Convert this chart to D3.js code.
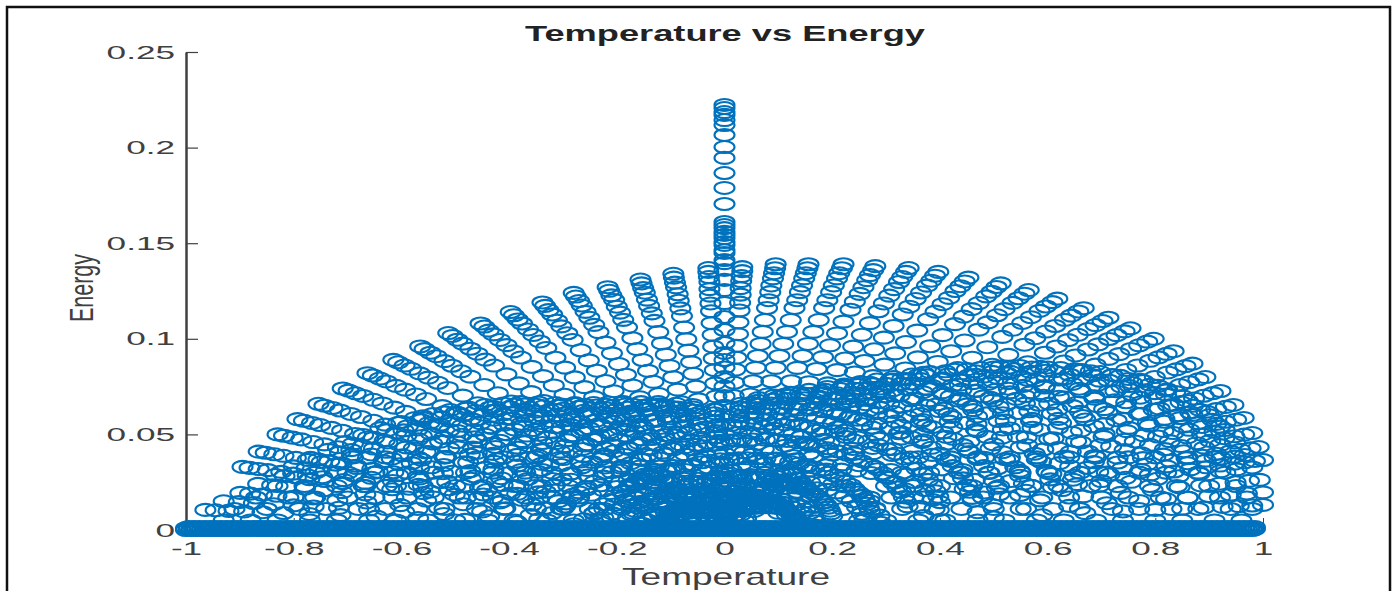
<!DOCTYPE html>
<html>
<head>
<meta charset="utf-8">
<script src="https://cdn.jsdelivr.net/npm/d3@7"></script>
<style>
  html, body { margin: 0; background: #fff; overflow: hidden; }
  text { font-family: "Liberation Sans", Arial, sans-serif; }
</style>
</head>
<body>
<div id="visualization"></div>
<script>
const c1 = '#0072BD'
const c2 = '#404040'

const titleText = 'Temperature vs Energy'
const xLabel = 'Temperature'
const yLabel = 'Energy'

const xTicks = [-1, -0.8, -0.6, -0.4, -0.2, 0, 0.2, 0.4, 0.6, 0.8, 1]
const yTicks = [0, 0.05, 0.1, 0.15, 0.2, 0.25]
const xTickLabels = ['-1', '-0.8', '-0.6', '-0.4', '-0.2', '0', '0.2', '0.4', '0.6', '0.8', '1']
const yTickLabels = ['0', '0.05', '0.1', '0.15', '0.2', '0.25']

// centre spike, all at temperature 0
const spikeY = [.2223, .2207, .2186, .2171, .2144, .2118, .2066, .2003, .1946, .1867, .1789, .1705, .1611, .1595, .1579, .1559, .1543, .1527, .1506, .1491, .1464, .1449, .1412, .1396, .136, .1308, .1255, .1187, .1114, .1046, .0978, .0926, .0889]

// outer fan, read ray by ray from tip to the inner hump
const outerX = [
  [-.895, -.882, -.865, -.848, -.823, -.801, -.774, -.747, -.707, -.667, -.627, -.586, -.546, -.501],
  [-.865, -.852, -.836, -.819, -.796, -.774, -.748, -.722, -.683, -.644, -.606, -.567, -.528, -.484],
  [-.83, -.818, -.802, -.786, -.764, -.743, -.718, -.693, -.656, -.618, -.581, -.544, -.506, -.465],
  [-.793, -.781, -.766, -.751, -.73, -.71, -.686, -.662, -.626, -.591, -.555, -.519, -.484, -.444],
  [-.754, -.743, -.728, -.714, -.694, -.675, -.652, -.63, -.596, -.562, -.528, -.494, -.46, -.422],
  [-.709, -.698, -.685, -.671, -.652, -.635, -.613, -.592, -.56, -.528, -.496, -.464, -.432, -.397],
  [-.663, -.653, -.64, -.628, -.61, -.593, -.573, -.554, -.524, -.494, -.464, -.434, -.404, -.371],
  [-.615, -.606, -.594, -.582, -.566, -.55, -.532, -.514, -.486, -.458, -.431, -.403, -.375, -.344],
  [-.565, -.557, -.546, -.535, -.52, -.506, -.489, -.472, -.446, -.421, -.396, -.37, -.345, -.316],
  [-.513, -.505, -.496, -.486, -.472, -.459, -.444, -.428, -.405, -.382, -.359, -.336, -.313, -.287],
  [-.453, -.446, -.438, -.429, -.417, -.405, -.392, -.378, -.358, -.337, -.317, -.297, -.276, -.254],
  [-.397, -.391, -.384, -.376, -.365, -.355, -.343, -.331, -.314, -.296, -.278, -.26, -.242, -.222],
  [-.338, -.333, -.327, -.32, -.311, -.303, -.292, -.282, -.267, -.252, -.237, -.221, -.206, -.189],
  [-.28, -.276, -.27, -.265, -.258, -.251, -.242, -.234, -.221, -.209, -.196, -.183, -.171, -.157],
  [-.217, -.214, -.21, -.205, -.2, -.194, -.188, -.181, -.171, -.162, -.152, -.142, -.132, -.122],
  [-.156, -.154, -.151, -.148, -.144, -.14, -.135, -.13, -.123, -.116, -.109, -.102, -.095, -.087],
  [-.095, -.094, -.092, -.09, -.087, -.085, -.082, -.079, -.075, -.071, -.067, -.062, -.058, -.053],
  [-.03, -.03, -.029, -.028, -.028, -.027, -.026, -.025, -.024, -.022, -.021, -.02, -.018, -.017],
  [.033, .033, .032, .031, .03, .03, .029, .028, .026, .025, .023, .022, .02, .018],
  [.095, .094, .092, .09, .087, .085, .082, .079, .075, .071, .067, .062, .058, .053],
  [.156, .154, .151, .148, .144, .14, .135, .13, .123, .116, .109, .102, .095, .087],
  [.221, .218, .213, .209, .203, .198, .191, .185, .175, .165, .155, .145, .135, .124],
  [.28, .276, .27, .265, .258, .251, .242, .234, .221, .209, .196, .183, .171, .157],
  [.342, .337, .33, .324, .315, .306, .296, .286, .27, .255, .239, .224, .209, .192],
  [.397, .391, .384, .376, .365, .355, .343, .331, .314, .296, .278, .26, .242, .222],
  [.453, .446, .438, .429, .417, .405, .392, .378, .358, .337, .317, .297, .276, .254],
  [.513, .505, .496, .486, .472, .459, .444, .428, .405, .382, .359, .336, .313, .287],
  [.565, .557, .546, .535, .52, .506, .489, .472, .446, .421, .396, .37, .345, .316],
  [.618, .609, .597, .585, .569, .553, .535, .516, .488, .46, .433, .405, .377, .346],
  [.667, .657, .644, .632, .614, .597, .577, .557, .527, .497, .467, .437, .407, .374],
  [.713, .702, .689, .675, .656, .638, .617, .595, .563, .531, .499, .467, .435, .399],
  [.754, .743, .728, .714, .694, .675, .652, .63, .596, .562, .528, .494, .46, .422],
  [.797, .785, .77, .755, .733, .713, .689, .665, .63, .594, .558, .522, .486, .446],
  [.834, .821, .806, .79, .767, .746, .721, .696, .659, .621, .584, .546, .509, .467],
  [.869, .856, .839, .823, .799, .778, .752, .726, .687, .647, .608, .569, .53, .487],
  [.893, .88, .863, .846, .822, .799, .772, .746, .705, .665, .625, .585, .545, .5],
  [.921, .907, .89, .872, .847, .824, .797, .769, .728, .686, .645, .603, .562, .516],
  [.945, .931, .913, .895, .869, .846, .817, .789, .747, .704, .662, .619, .576, .529],
  [.964, .95, .931, .913, .887, .863, .834, .805, .762, .718, .675, .631, .588, .54],
  [.98, .965, .947, .928, .902, .877, .848, .818, .774, .73, .686, .642, .598, .549],
  [.992, .977, .958, .939, .913, .888, .858, .828, .784, .739, .694, .65, .605, .556],
  [1, .985, .966, .947, .92, .895, .865, .835, .79, .745, .7, .655, .61, .56]
]
const outerY = [
  [.033, .0325, .0319, .0313, .0304, .0295, .0285, .0276, .0261, .0246, .0231, .0216, .0201, .0185],
  [.041, .0404, .0396, .0388, .0377, .0367, .0355, .0342, .0324, .0305, .0287, .0269, .025, .023],
  [.05, .0493, .0483, .0474, .046, .0448, .0433, .0418, .0395, .0373, .035, .0328, .0305, .028],
  [.058, .0571, .056, .0549, .0534, .0519, .0502, .0484, .0458, .0432, .0406, .038, .0354, .0325],
  [.066, .065, .0638, .0625, .0607, .0591, .0571, .0551, .0521, .0492, .0462, .0432, .0403, .037],
  [.074, .0729, .0715, .0701, .0681, .0662, .064, .0618, .0585, .0551, .0518, .0485, .0451, .0414],
  [.082, .0808, .0792, .0777, .0754, .0734, .0709, .0685, .0648, .0611, .0574, .0537, .05, .0459],
  [.089, .0877, .086, .0843, .0819, .0797, .077, .0743, .0703, .0663, .0623, .0583, .0543, .0498],
  [.096, .0946, .0927, .0909, .0883, .0859, .083, .0802, .0758, .0715, .0672, .0629, .0586, .0538],
  [.103, .1015, .0995, .0975, .0948, .0922, .0891, .086, .0814, .0767, .0721, .0675, .0628, .0577],
  [.108, .1064, .1043, .1023, .0994, .0967, .0934, .0902, .0853, .0805, .0756, .0707, .0659, .0605],
  [.114, .1123, .1101, .108, .1049, .102, .0986, .0952, .0901, .0849, .0798, .0747, .0695, .0638],
  [.119, .1172, .115, .1127, .1095, .1065, .1029, .0994, .094, .0887, .0833, .0779, .0726, .0666],
  [.124, .1221, .1198, .1174, .1141, .111, .1073, .1035, .098, .0924, .0868, .0812, .0756, .0694],
  [.127, .1251, .1227, .1203, .1168, .1137, .1099, .106, .1003, .0946, .0889, .0832, .0775, .0711],
  [.131, .129, .1265, .1241, .1205, .1172, .1133, .1094, .1035, .0976, .0917, .0858, .0799, .0734],
  [.134, .132, .1294, .1269, .1233, .1199, .1159, .1119, .1059, .0998, .0938, .0878, .0817, .075],
  [.137, .135, .1323, .1297, .126, .1226, .1185, .1144, .1082, .1021, .0959, .0897, .0836, .0767],
  [.1375, .1354, .1328, .1302, .1265, .1231, .1189, .1148, .1086, .1024, .0963, .0901, .0839, .077],
  [.139, .1369, .1343, .1316, .1279, .1244, .1202, .1161, .1098, .1036, .0973, .091, .0848, .0778],
  [.139, .1369, .1343, .1316, .1279, .1244, .1202, .1161, .1098, .1036, .0973, .091, .0848, .0778],
  [.139, .1369, .1343, .1316, .1279, .1244, .1202, .1161, .1098, .1036, .0973, .091, .0848, .0778],
  [.138, .1359, .1333, .1307, .127, .1235, .1194, .1152, .109, .1028, .0966, .0904, .0842, .0773],
  [.137, .135, .1323, .1297, .126, .1226, .1185, .1144, .1082, .1021, .0959, .0897, .0836, .0767],
  [.135, .133, .1304, .1278, .1242, .1208, .1168, .1127, .1067, .1006, .0945, .0884, .0824, .0756],
  [.132, .13, .1275, .125, .1214, .1181, .1142, .1102, .1043, .0983, .0924, .0865, .0805, .0739],
  [.129, .1271, .1246, .1222, .1187, .1155, .1116, .1077, .1019, .0961, .0903, .0845, .0787, .0722],
  [.1255, .1236, .1212, .1188, .1155, .1123, .1086, .1048, .0991, .0935, .0879, .0822, .0766, .0703],
  [.121, .1192, .1169, .1146, .1113, .1083, .1047, .101, .0956, .0901, .0847, .0793, .0738, .0678],
  [.116, .1143, .1121, .1099, .1067, .1038, .1003, .0969, .0916, .0864, .0812, .076, .0708, .065],
  [.111, .1093, .1072, .1051, .1021, .0993, .096, .0927, .0877, .0827, .0777, .0727, .0677, .0622],
  [.1055, .1039, .1019, .0999, .0971, .0944, .0913, .0881, .0833, .0786, .0739, .0691, .0644, .0591],
  [.1, .0985, .0966, .0947, .092, .0895, .0865, .0835, .079, .0745, .07, .0655, .061, .056],
  [.0935, .0921, .0903, .0885, .086, .0837, .0809, .0781, .0739, .0697, .0655, .0612, .057, .0524],
  [.087, .0857, .084, .0824, .08, .0779, .0753, .0726, .0687, .0648, .0609, .057, .0531, .0487],
  [.08, .0788, .0773, .0758, .0736, .0716, .0692, .0668, .0632, .0596, .056, .0524, .0488, .0448],
  [.0727, .0716, .0702, .0688, .0669, .0651, .0629, .0607, .0574, .0542, .0509, .0476, .0443, .0407],
  [.0654, .0644, .0632, .0619, .0602, .0585, .0566, .0546, .0517, .0487, .0458, .0428, .0399, .0366],
  [.0586, .0577, .0566, .0555, .0539, .0524, .0507, .0489, .0463, .0437, .041, .0384, .0357, .0328],
  [.0507, .0499, .049, .048, .0466, .0454, .0439, .0423, .0401, .0378, .0355, .0332, .0309, .0284],
  [.0434, .0427, .0419, .0411, .0399, .0388, .0375, .0362, .0343, .0323, .0304, .0284, .0265, .0243],
  [.0366, .0361, .0354, .0347, .0337, .0328, .0317, .0306, .0289, .0273, .0256, .024, .0223, .0205]
]

// same fan rays where they run on inside the humps
const lowerX = [
  [-.456, -.412, -.358, -.304, -.242, -.179, -.116], [-.441, -.398, -.346, -.294, -.234, -.173, -.112],
  [-.423, -.382, -.332, -.282, -.224, -.166, -.108], [-.404, -.365, -.317, -.27, -.214, -.159, -.103],
  [-.385, -.347, -.302, -.256, -.204, -.151, -.098], [-.362, -.326, -.284, -.241, -.191, -.142, -.092],
  [-.338, -.305, -.265, -.225, -.179, -.133, -.086], [-.314, -.283, -.246, -.209, -.166, -.123, -.08],
  [-.288, -.26, -.226, -.192, -.153, -.113, -.073], [-.262, -.236, -.205, -.174, -.139, -.103, -.067],
  [-.231, -.208, -.181, -.154, -.122, -.091, -.059], [-.202, -.183, -.159, -.135, -.107, -.079, -.052],
  [-.172, -.155, -.135, -.115, -.091, -.068, -.044], [-.143, -.129, -.112, -.095, -.076, -.056, -.036],
  [-.111, -.1, -.087, -.074, -.059, -.043, -.028], [-.08, -.072, -.062, -.053, -.042, -.031, -.02],
  [-.048, -.044, -.038, -.032, -.026, -.019, -.012], [-.015, -.014, -.012, -.01, -.008, -.006, -.004],
  [.017, .015, .013, .011, .009, .007, .004], [.048, .044, .038, .032, .026, .019, .012],
  [.08, .072, .062, .053, .042, .031, .02], [.113, .102, .088, .075, .06, .044, .029],
  [.143, .129, .112, .095, .076, .056, .036], [.174, .157, .137, .116, .092, .068, .044],
  [.202, .183, .159, .135, .107, .079, .052], [.231, .208, .181, .154, .122, .091, .059],
  [.262, .236, .205, .174, .139, .103, .067], [.288, .26, .226, .192, .153, .113, .073],
  [.315, .284, .247, .21, .167, .124, .08], [.34, .307, .267, .227, .18, .133, .087],
  [.364, .328, .285, .242, .193, .143, .093], [.385, .347, .302, .256, .204, .151, .098],
  [.406, .367, .319, .271, .215, .159, .104], [.425, .384, .334, .284, .225, .167, .108],
  [.443, .4, .348, .295, .235, .174, .113], [.455, .411, .357, .304, .241, .179, .116],
  [.47, .424, .368, .313, .249, .184, .12], [.482, .435, .378, .321, .255, .189, .123],
  [.492, .443, .386, .328, .26, .193, .125], [.5, .451, .392, .333, .265, .196, .127],
  [.506, .456, .397, .337, .268, .198, .129], [.51, .46, .4, .34, .27, .2, .13]
]
const lowerY = [
  [.0168, .0152, .0132, .0112, .0089, .0066, .0043], [.0209, .0189, .0164, .0139, .0111, .0082, .0053],
  [.0255, .023, .02, .017, .0135, .01, .0065], [.0296, .0267, .0232, .0197, .0157, .0116, .0075],
  [.0337, .0304, .0264, .0224, .0178, .0132, .0086], [.0377, .034, .0296, .0252, .02, .0148, .0096],
  [.0418, .0377, .0328, .0279, .0221, .0164, .0107], [.0454, .0409, .0356, .0303, .024, .0178, .0116],
  [.049, .0442, .0384, .0326, .0259, .0192, .0125], [.0525, .0474, .0412, .035, .0278, .0206, .0134],
  [.0551, .0497, .0432, .0367, .0292, .0216, .014], [.0581, .0524, .0456, .0388, .0308, .0228, .0148],
  [.0607, .0547, .0476, .0405, .0321, .0238, .0155], [.0632, .057, .0496, .0422, .0335, .0248, .0161],
  [.0648, .0584, .0508, .0432, .0343, .0254, .0165], [.0668, .0603, .0524, .0445, .0354, .0262, .017],
  [.0683, .0616, .0536, .0456, .0362, .0268, .0174], [.0699, .063, .0548, .0466, .037, .0274, .0178],
  [.0701, .0633, .055, .0468, .0371, .0275, .0179], [.0709, .0639, .0556, .0473, .0375, .0278, .0181],
  [.0709, .0639, .0556, .0473, .0375, .0278, .0181], [.0709, .0639, .0556, .0473, .0375, .0278, .0181],
  [.0704, .0635, .0552, .0469, .0373, .0276, .0179], [.0699, .063, .0548, .0466, .037, .0274, .0178],
  [.0689, .0621, .054, .0459, .0365, .027, .0176], [.0673, .0607, .0528, .0449, .0356, .0264, .0172],
  [.0658, .0593, .0516, .0439, .0348, .0258, .0168], [.064, .0577, .0502, .0427, .0339, .0251, .0163],
  [.0617, .0557, .0484, .0411, .0327, .0242, .0157], [.0592, .0534, .0464, .0394, .0313, .0232, .0151],
  [.0566, .0511, .0444, .0377, .03, .0222, .0144], [.0538, .0485, .0422, .0359, .0285, .0211, .0137],
  [.051, .046, .04, .034, .027, .02, .013], [.0477, .043, .0374, .0318, .0252, .0187, .0122],
  [.0444, .04, .0348, .0296, .0235, .0174, .0113], [.0408, .0368, .032, .0272, .0216, .016, .0104],
  [.0371, .0334, .0291, .0247, .0196, .0145, .0095], [.0334, .0301, .0262, .0222, .0177, .0131, .0085],
  [.0299, .027, .0234, .0199, .0158, .0117, .0076], [.0259, .0233, .0203, .0172, .0137, .0101, .0066],
  [.0221, .02, .0174, .0148, .0117, .0087, .0056], [.0187, .0168, .0146, .0124, .0099, .0073, .0048]
]

// inner humps, nested down towards the origin
const innerX = [
  [-.964, -.945, -.921, -.892, -.858, -.819, -.771, -.713, -.646, -.569, -.482, -.386, -.28, -.164],
  [-.899, -.881, -.859, -.832, -.8, -.764, -.719, -.665, -.602, -.53, -.45, -.36, -.261, -.153],
  [-.834, -.817, -.796, -.771, -.742, -.709, -.667, -.617, -.559, -.492, -.417, -.334, -.242, -.142],
  [-.769, -.754, -.734, -.711, -.684, -.654, -.615, -.569, -.515, -.454, -.385, -.308, -.223, -.131],
  [-.704, -.69, -.672, -.651, -.627, -.598, -.563, -.521, -.472, -.415, -.352, -.282, -.204, -.12],
  [-.639, -.626, -.61, -.591, -.569, -.543, -.511, -.473, -.428, -.377, -.32, -.256, -.185, -.109],
  [-.574, -.563, -.548, -.531, -.511, -.488, -.459, -.425, -.385, -.339, -.287, -.23, -.166, -.098],
  [-.509, -.499, -.486, -.471, -.453, -.433, -.407, -.377, -.341, -.3, -.255, -.204, -.148, -.087],
  [-.444, -.435, -.424, -.411, -.395, -.377, -.355, -.329, -.297, -.262, -.222, -.178, -.129, -.075],
  [-.379, -.371, -.362, -.351, -.337, -.322, -.303, -.28, -.254, -.224, -.19, -.152, -.11, -.064],
  [-.314, -.308, -.3, -.29, -.279, -.267, -.251, -.232, -.21, -.185, -.157, -.126, -.091, -.053],
  [-.243, -.238, -.232, -.225, -.216, -.207, -.194, -.18, -.163, -.143, -.122, -.097, -.07, -.041],
  [-.188, -.184, -.18, -.174, -.167, -.16, -.15, -.139, -.126, -.111, -.094, -.075, -.055, -.032],
  [-.123, -.121, -.117, -.114, -.109, -.105, -.098, -.091, -.082, -.073, -.062, -.049, -.036, -.021],
  [-.059, -.058, -.056, -.055, -.053, -.05, -.047, -.044, -.04, -.035, -.03, -.024, -.017, -.01],
  [.063, .062, .06, .058, .056, .054, .05, .047, .042, .037, .032, .025, .018, .011],
  [.123, .121, .117, .114, .109, .105, .098, .091, .082, .073, .062, .049, .036, .021],
  [.191, .187, .182, .177, .17, .162, .153, .141, .128, .113, .096, .076, .055, .032],
  [.253, .248, .242, .234, .225, .215, .202, .187, .17, .149, .127, .101, .073, .043],
  [.314, .308, .3, .29, .279, .267, .251, .232, .21, .185, .157, .126, .091, .053],
  [.382, .374, .365, .353, .34, .325, .306, .283, .256, .225, .191, .153, .111, .065],
  [.475, .466, .454, .439, .423, .404, .38, .352, .318, .28, .238, .19, .138, .081],
  [.549, .538, .524, .508, .489, .467, .439, .406, .368, .324, .275, .22, .159, .093],
  [.624, .612, .596, .577, .555, .53, .499, .462, .418, .368, .312, .25, .181, .106],
  [.698, .684, .667, .646, .621, .593, .558, .517, .468, .412, .349, .279, .202, .119],
  [.772, .757, .737, .714, .687, .656, .618, .571, .517, .455, .386, .309, .224, .131],
  [.837, .82, .799, .774, .745, .711, .67, .619, .561, .494, .419, .335, .243, .142],
  [.883, .865, .843, .817, .786, .751, .706, .653, .592, .521, .442, .353, .256, .15],
  [.929, .91, .887, .859, .827, .79, .743, .687, .622, .548, .465, .372, .269, .158],
  [.966, .947, .923, .894, .86, .821, .773, .715, .647, .57, .483, .386, .28, .164],
  [.994, .974, .949, .919, .885, .845, .795, .736, .666, .586, .497, .398, .288, .169],
  [1, .98, .955, .925, .89, .85, .8, .74, .67, .59, .5, .4, .29, .17]
]
const innerY = [
  [.0105, .0103, .01, .0097, .0093, .0089, .0084, .0078, .007, .0062, .0053, .0042, .003, .0018],
  [.0194, .019, .0185, .0179, .0173, .0165, .0155, .0144, .013, .0114, .0097, .0078, .0056, .0033],
  [.0288, .0282, .0275, .0266, .0256, .0245, .023, .0213, .0193, .017, .0144, .0115, .0084, .0049],
  [.0377, .0369, .036, .0349, .0336, .032, .0302, .0279, .0253, .0222, .0189, .0151, .0109, .0064],
  [.046, .0451, .0439, .0426, .0409, .0391, .0368, .034, .0308, .0271, .023, .0184, .0133, .0078],
  [.0533, .0522, .0509, .0493, .0474, .0453, .0426, .0394, .0357, .0314, .0267, .0213, .0155, .0091],
  [.0586, .0574, .056, .0542, .0522, .0498, .0469, .0434, .0393, .0346, .0293, .0234, .017, .01],
  [.0628, .0615, .06, .0581, .0559, .0534, .0502, .0465, .0421, .0371, .0314, .0251, .0182, .0107],
  [.0654, .0641, .0625, .0605, .0582, .0556, .0523, .0484, .0438, .0386, .0327, .0262, .019, .0111],
  [.0669, .0656, .0639, .0619, .0595, .0569, .0535, .0495, .0448, .0395, .0335, .0268, .0194, .0114],
  [.0664, .0651, .0634, .0614, .0591, .0564, .0531, .0491, .0445, .0392, .0332, .0266, .0193, .0113],
  [.0664, .0651, .0634, .0614, .0591, .0564, .0531, .0491, .0445, .0392, .0332, .0266, .0193, .0113],
  [.0669, .0656, .0639, .0619, .0595, .0569, .0535, .0495, .0448, .0395, .0335, .0268, .0194, .0114],
  [.0669, .0656, .0639, .0619, .0595, .0569, .0535, .0495, .0448, .0395, .0335, .0268, .0194, .0114],
  [.0654, .0641, .0625, .0605, .0582, .0556, .0523, .0484, .0438, .0386, .0327, .0262, .019, .0111],
  [.069, .0676, .0659, .0638, .0614, .0587, .0552, .0511, .0462, .0407, .0345, .0276, .02, .0117],
  [.0717, .0703, .0685, .0663, .0638, .0609, .0574, .0531, .048, .0423, .0359, .0287, .0208, .0122],
  [.0748, .0733, .0714, .0692, .0666, .0636, .0598, .0554, .0501, .0441, .0374, .0299, .0217, .0127],
  [.0774, .0759, .0739, .0716, .0689, .0658, .0619, .0573, .0519, .0457, .0387, .031, .0224, .0132],
  [.08, .0784, .0764, .074, .0712, .068, .064, .0592, .0536, .0472, .04, .032, .0232, .0136],
  [.0826, .0809, .0789, .0764, .0735, .0702, .0661, .0611, .0553, .0487, .0413, .033, .024, .014],
  [.0847, .083, .0809, .0783, .0754, .072, .0678, .0627, .0567, .05, .0424, .0339, .0246, .0144],
  [.0858, .0841, .0819, .0794, .0764, .0729, .0686, .0635, .0575, .0506, .0429, .0343, .0249, .0146],
  [.0847, .083, .0809, .0783, .0754, .072, .0678, .0627, .0567, .05, .0424, .0339, .0246, .0144],
  [.0826, .0809, .0789, .0764, .0735, .0702, .0661, .0611, .0553, .0487, .0413, .033, .024, .014],
  [.0785, .0769, .075, .0726, .0699, .0667, .0628, .0581, .0526, .0463, .0393, .0314, .0228, .0133],
  [.0722, .0708, .069, .0668, .0643, .0614, .0578, .0534, .0484, .0426, .0361, .0289, .0209, .0123],
  [.0628, .0615, .06, .0581, .0559, .0534, .0502, .0465, .0421, .0371, .0314, .0251, .0182, .0107],
  [.0523, .0513, .0499, .0484, .0465, .0445, .0418, .0387, .035, .0309, .0262, .0209, .0152, .0089],
  [.0392, .0384, .0374, .0363, .0349, .0333, .0314, .029, .0263, .0231, .0196, .0157, .0114, .0067],
  [.0262, .0257, .025, .0242, .0233, .0223, .021, .0194, .0176, .0155, .0131, .0105, .0076, .0045],
  [.0131, .0128, .0125, .0121, .0117, .0111, .0105, .0097, .0088, .0077, .0066, .0052, .0038, .0022]
]

// rays between the inner ones
const midX = [
  [-.93, -.902, -.874, -.837, -.8, -.763, -.716, -.66, -.595, -.521, -.437, -.344, -.242, -.13],
  [-.866, -.84, -.814, -.779, -.745, -.71, -.667, -.615, -.554, -.485, -.407, -.32, -.225, -.121],
  [-.8, -.776, -.752, -.72, -.688, -.656, -.616, -.568, -.512, -.448, -.376, -.296, -.208, -.112],
  [-.736, -.714, -.692, -.662, -.633, -.604, -.567, -.523, -.471, -.412, -.346, -.272, -.191, -.103],
  [-.671, -.651, -.631, -.604, -.577, -.55, -.517, -.476, -.429, -.376, -.315, -.248, -.174, -.094],
  [-.606, -.588, -.57, -.545, -.521, -.497, -.467, -.43, -.388, -.339, -.285, -.224, -.158, -.085],
  [-.541, -.525, -.509, -.487, -.465, -.444, -.417, -.384, -.346, -.303, -.254, -.2, -.141, -.076],
  [-.476, -.462, -.447, -.428, -.409, -.39, -.367, -.338, -.305, -.267, -.224, -.176, -.124, -.067],
  [-.411, -.399, -.386, -.37, -.353, -.337, -.316, -.292, -.263, -.23, -.193, -.152, -.107, -.058],
  [-.346, -.336, -.325, -.311, -.298, -.284, -.266, -.246, -.221, -.194, -.163, -.128, -.09, -.048],
  [-.278, -.27, -.261, -.25, -.239, -.228, -.214, -.197, -.178, -.156, -.131, -.103, -.072, -.039],
  [-.215, -.209, -.202, -.194, -.185, -.176, -.166, -.153, -.138, -.12, -.101, -.08, -.056, -.03],
  [-.155, -.15, -.146, -.14, -.133, -.127, -.119, -.11, -.099, -.087, -.073, -.057, -.04, -.022],
  [-.09, -.087, -.085, -.081, -.077, -.074, -.069, -.064, -.058, -.05, -.042, -.033, -.023, -.013],
  [-.02, -.019, -.019, -.018, -.017, -.016, -.015, -.014, -.013, -.011, -.009, -.007, -.005, -.003],
  [.03, .029, .028, .027, .026, .025, .023, .021, .019, .017, .014, .011, .008, .004],
  [.093, .09, .087, .084, .08, .076, .072, .066, .06, .052, .044, .034, .024, .013],
  [.157, .152, .148, .141, .135, .129, .121, .111, .1, .088, .074, .058, .041, .022],
  [.222, .215, .209, .2, .191, .182, .171, .158, .142, .124, .104, .082, .058, .031],
  [.283, .275, .266, .255, .243, .232, .218, .201, .181, .158, .133, .105, .074, .04],
  [.348, .338, .327, .313, .299, .285, .268, .247, .223, .195, .164, .129, .09, .049],
  [.428, .415, .402, .385, .368, .351, .33, .304, .274, .24, .201, .158, .111, .06],
  [.512, .497, .481, .461, .44, .42, .394, .364, .328, .287, .241, .189, .133, .072],
  [.586, .568, .551, .527, .504, .481, .451, .416, .375, .328, .275, .217, .152, .082],
  [.661, .641, .621, .595, .568, .542, .509, .469, .423, .37, .311, .245, .172, .093],
  [.735, .713, .691, .662, .632, .603, .566, .522, .47, .412, .345, .272, .191, .103],
  [.805, .781, .757, .725, .692, .66, .62, .572, .515, .451, .378, .298, .209, .113],
  [.86, .834, .808, .774, .74, .705, .662, .611, .55, .482, .404, .318, .224, .12],
  [.906, .879, .852, .815, .779, .743, .698, .643, .58, .507, .426, .335, .236, .127],
  [.948, .92, .891, .853, .815, .777, .73, .673, .607, .531, .446, .351, .246, .133],
  [.98, .951, .921, .882, .843, .804, .755, .696, .627, .549, .461, .363, .255, .137],
  [1, .97, .94, .9, .86, .82, .77, .71, .64, .56, .47, .37, .26, .14]
]
const midY = [
  [.015, .0146, .0141, .0135, .0129, .0123, .0116, .0107, .0096, .0084, .0071, .0056, .0039, .0021],
  [.0241, .0234, .0227, .0217, .0207, .0198, .0186, .0171, .0154, .0135, .0113, .0089, .0063, .0034],
  [.0333, .0323, .0313, .03, .0286, .0273, .0256, .0236, .0213, .0186, .0157, .0123, .0087, .0047],
  [.0419, .0406, .0394, .0377, .036, .0344, .0323, .0297, .0268, .0235, .0197, .0155, .0109, .0059],
  [.0497, .0482, .0467, .0447, .0427, .0408, .0383, .0353, .0318, .0278, .0234, .0184, .0129, .007],
  [.056, .0543, .0526, .0504, .0482, .0459, .0431, .0398, .0358, .0314, .0263, .0207, .0146, .0078],
  [.0607, .0589, .0571, .0546, .0522, .0498, .0467, .0431, .0388, .034, .0285, .0225, .0158, .0085],
  [.0641, .0622, .0603, .0577, .0551, .0526, .0494, .0455, .041, .0359, .0301, .0237, .0167, .009],
  [.0662, .0642, .0622, .0596, .0569, .0543, .051, .047, .0424, .0371, .0311, .0245, .0172, .0093],
  [.0667, .0647, .0627, .06, .0574, .0547, .0514, .0474, .0427, .0374, .0313, .0247, .0173, .0093],
  [.0664, .0644, .0624, .0598, .0571, .0544, .0511, .0471, .0425, .0372, .0312, .0246, .0173, .0093],
  [.0667, .0647, .0627, .06, .0574, .0547, .0514, .0474, .0427, .0374, .0313, .0247, .0173, .0093],
  [.0669, .0649, .0629, .0602, .0575, .0549, .0515, .0475, .0428, .0375, .0314, .0248, .0174, .0094],
  [.066, .064, .062, .0594, .0568, .0541, .0508, .0469, .0422, .037, .031, .0244, .0172, .0092],
  [.063, .0611, .0592, .0567, .0542, .0517, .0485, .0447, .0403, .0353, .0296, .0233, .0164, .0088],
  [.066, .064, .062, .0594, .0568, .0541, .0508, .0469, .0422, .037, .031, .0244, .0172, .0092],
  [.0703, .0682, .0661, .0633, .0605, .0576, .0541, .0499, .045, .0394, .033, .026, .0183, .0098],
  [.0733, .0711, .0689, .066, .063, .0601, .0564, .052, .0469, .041, .0345, .0271, .0191, .0103],
  [.0761, .0738, .0715, .0685, .0654, .0624, .0586, .054, .0487, .0426, .0358, .0282, .0198, .0107],
  [.0787, .0763, .074, .0708, .0677, .0645, .0606, .0559, .0504, .0441, .037, .0291, .0205, .011],
  [.0813, .0789, .0764, .0732, .0699, .0667, .0626, .0577, .052, .0455, .0382, .0301, .0211, .0114],
  [.0838, .0813, .0788, .0754, .0721, .0687, .0645, .0595, .0536, .0469, .0394, .031, .0218, .0117],
  [.0853, .0827, .0802, .0768, .0734, .0699, .0657, .0606, .0546, .0478, .0401, .0316, .0222, .0119],
  [.0853, .0827, .0802, .0768, .0734, .0699, .0657, .0606, .0546, .0478, .0401, .0316, .0222, .0119],
  [.0837, .0812, .0787, .0753, .072, .0686, .0644, .0594, .0536, .0469, .0393, .031, .0218, .0117],
  [.0806, .0782, .0758, .0725, .0693, .0661, .0621, .0572, .0516, .0451, .0379, .0298, .021, .0113],
  [.0754, .0731, .0709, .0679, .0648, .0618, .0581, .0535, .0483, .0422, .0354, .0279, .0196, .0106],
  [.0675, .0655, .0635, .0608, .0581, .0554, .052, .0479, .0432, .0378, .0317, .025, .0176, .0095],
  [.0576, .0559, .0541, .0518, .0495, .0472, .0444, .0409, .0369, .0323, .0271, .0213, .015, .0081],
  [.0458, .0444, .0431, .0412, .0394, .0376, .0353, .0325, .0293, .0256, .0215, .0169, .0119, .0064],
  [.0327, .0317, .0307, .0294, .0281, .0268, .0252, .0232, .0209, .0183, .0154, .0121, .0085, .0046],
  [.0197, .0191, .0185, .0177, .0169, .0162, .0152, .014, .0126, .011, .0093, .0073, .0051, .0028]
]

// dark band along the top of the humps
const bandX = [-.6, -.56, -.52, -.48, -.43, -.39, -.35, -.3, -.26, -.22, -.17, -.14, -.1, -.07, .05, .1, .14, .18, .22, .27, .33, .36, .41, .45, .5, .53, .57, .6, .65, .68, .72, .75, .79, .82, .85, .87, .9, .92]
const bandY = [.0565, .0595, .0615, .0635, .0645, .0655, .0655, .0655, .0655, .0655, .0655, .0655, .0645, .0635, .0665, .0695, .0715, .0725, .075, .077, .079, .081, .083, .084, .085, .085, .085, .085, .084, .083, .081, .079, .076, .073, .07, .065, .06, .054]

// low rows filling the sides of the humps
const fillHeights = [.005, .011, .017, .023, .03, .038]
const fillRows = [
  [-.93, -.88, -.83, -.77, -.72, -.66, -.61, -.55, -.5, -.44, -.39, -.33, -.28, -.23, .25, .3, .36, .41, .47, .52, .58, .63, .69, .74, .8, .85, .91, .96],
  [-.91, -.85, -.79, -.74, -.68, -.63, -.57, -.52, -.46, -.41, -.35, -.3, -.25, .22, .28, .33, .39, .44, .5, .55, .61, .66, .72, .77, .83, .88, .94, .98],
  [-.87, -.81, -.76, -.7, -.65, -.59, -.54, -.48, -.43, -.37, -.32, -.27, .27, .31, .37, .42, .48, .53, .59, .64, .7, .75, .81, .86, .92, .97],
  [-.83, -.78, -.72, -.67, -.61, -.56, -.5, -.45, -.39, -.34, -.29, .3, .35, .4, .46, .51, .57, .62, .68, .73, .79, .84, .9, .95],
  [-.76, -.7, -.65, -.59, -.54, -.48, -.43, -.37, -.32, .33, .38, .44, .49, .55, .6, .66, .71, .77, .82, .88, .93],
  [-.69, -.63, -.57, -.52, -.46, -.41, -.35, .36, .42, .47, .53, .58, .64, .69, .75, .8, .86, .91]
]

// dark lobes either side of the origin
const coreX = [-.19, -.185, -.175, -.16, -.14, -.12, -.1, -.085, -.07, -.055, -.04, -.17, -.15, -.13, -.11, -.09, -.075, -.06, -.16, -.14, -.125, -.105, -.12,
  -.18, -.165, -.148, -.132, -.115, -.095, -.078, -.062, -.048, -.152, -.136, -.118, -.098, -.08, -.064, -.05,
  .165, .16, .15, .135, .115, .095, .08, .065, .05, .04, .03, .145, .125, .105, .09, .07, .055, .04, .135, .115, .1, .085, .1,
  .155, .142, .126, .11, .092, .076, .06, .046, .034, .13, .116, .098, .082, .066, .05, .036,
  0, 0, 0, 0, 0, 0, 0, 0, 0, 0, 0, 0, 0, 0, 0, 0, 0, 0, 0,
  -.015, -.015, -.015, -.015, .015, .015, .015, .015, -.03, -.03, -.03, .03, .03,
  -.022, -.008, .008, .022, -.035, -.022, -.008, .008, .022, .035, -.04, -.025, .025, .04]
const coreY = [.012, .018, .023, .027, .029, .028, .025, .02, .016, .012, .008, .009, .012, .016, .02, .015, .01, .007, .02, .022, .023, .012, .009,
  .015, .025, .029, .03, .026, .022, .018, .014, .01, .006, .008, .014, .018, .012, .01, .005,
  .012, .018, .023, .027, .029, .028, .025, .02, .016, .012, .008, .009, .012, .016, .02, .015, .01, .006, .02, .022, .023, .012, .009,
  .015, .025, .029, .03, .026, .022, .018, .014, .01, .006, .008, .014, .018, .012, .012, .005,
  .003, .006, .01, .014, .018, .022, .026, .03, .035, .04, .045, .05, .055, .06, .065, .07, .075, .08, .085,
  .005, .012, .02, .028, .005, .012, .02, .028, .005, .012, .02, .015, .022,
  .008, .008, .008, .008, .016, .016, .016, .016, .016, .016, .024, .024, .024, .024]

// the solid bar along zero energy
const baseX = [-1, -.99, -.98, -.97, -.96, -.95, -.94, -.93, -.92, -.91, -.9, -.89, -.88, -.87, -.86, -.85, -.84, -.83, -.82, -.81, -.8, -.79, -.78, -.77, -.76, -.75, -.74, -.73, -.72, -.71, -.7, -.69, -.68, -.67, -.66, -.65, -.64, -.63, -.62, -.61, -.6, -.59, -.58, -.57, -.56, -.55, -.54, -.53, -.52, -.51, -.5, -.49, -.48, -.47, -.46, -.45, -.44, -.43, -.42, -.41, -.4, -.39, -.38, -.37, -.36, -.35, -.34, -.33, -.32, -.31, -.3, -.29, -.28, -.27, -.26, -.25, -.24, -.23, -.22, -.21, -.2, -.19, -.18, -.17, -.16, -.15, -.14, -.13, -.12, -.11, -.1, -.09, -.08, -.07, -.06, -.05, -.04, -.03, -.02, -.01, 0, .01, .02, .03, .04, .05, .06, .07, .08, .09, .1, .11, .12, .13, .14, .15, .16, .17, .18, .19, .2, .21, .22, .23, .24, .25, .26, .27, .28, .29, .3, .31, .32, .33, .34, .35, .36, .37, .38, .39, .4, .41, .42, .43, .44, .45, .46, .47, .48, .49, .5, .51, .52, .53, .54, .55, .56, .57, .58, .59, .6, .61, .62, .63, .64, .65, .66, .67, .68, .69, .7, .71, .72, .73, .74, .75, .76, .77, .78, .79, .8, .81, .82, .83, .84, .85, .86, .87, .88, .89, .9, .91, .92, .93, .94, .95, .96, .97, .98]
const baseXb = [-.995, -.985, -.975, -.965, -.955, -.945, -.935, -.925, -.915, -.905, -.895, -.885, -.875, -.865, -.855, -.845, -.835, -.825, -.815, -.805, -.795, -.785, -.775, -.765, -.755, -.745, -.735, -.725, -.715, -.705, -.695, -.685, -.675, -.665, -.655, -.645, -.635, -.625, -.615, -.605, -.595, -.585, -.575, -.565, -.555, -.545, -.535, -.525, -.515, -.505, -.495, -.485, -.475, -.465, -.455, -.445, -.435, -.425, -.415, -.405, -.395, -.385, -.375, -.365, -.355, -.345, -.335, -.325, -.315, -.305, -.295, -.285, -.275, -.265, -.255, -.245, -.235, -.225, -.215, -.205, -.195, -.185, -.175, -.165, -.155, -.145, -.135, -.125, -.115, -.105, -.095, -.085, -.075, -.065, -.055, -.045, -.035, -.025, -.015, -.005, .005, .015, .025, .035, .045, .055, .065, .075, .085, .095, .105, .115, .125, .135, .145, .155, .165, .175, .185, .195, .205, .215, .225, .235, .245, .255, .265, .275, .285, .295, .305, .315, .325, .335, .345, .355, .365, .375, .385, .395, .405, .415, .425, .435, .445, .455, .465, .475, .485, .495, .505, .515, .525, .535, .545, .555, .565, .575, .585, .595, .605, .615, .625, .635, .645, .655, .665, .675, .685, .695, .705, .715, .725, .735, .745, .755, .765, .775, .785, .795, .805, .815, .825, .835, .845, .855, .865, .875, .885, .895, .905, .915, .925, .935, .945, .955, .965, .975, .985]
const baseHeights = [0, .001]
const baseHeightsB = [.0005, .0015]

function stretchLabels (sel, factor) {
  sel.each(function () {
    d3.select(this)
      .attr('textLength', this.getComputedTextLength() * factor)
      .attr('lengthAdjust', 'spacingAndGlyphs')
  })
}

function plot () {
  const width = 1397
  const height = 591

  const svg = d3.select('#visualization').append('svg')
    .attr('width', width)
    .attr('height', height)
    .style('display', 'block')

  const x = d3.scaleLinear().domain([-1, 1]).range([186, 1263])
  const y = d3.scaleLinear().domain([0, 0.25]).range([530, 52])

  svg.append('rect')
    .attr('x', 7).attr('y', 7)
    .attr('width', 1383).attr('height', 640)
    .attr('fill', 'none')
    .attr('stroke', '#111')
    .attr('stroke-width', 2.5)

  const yAxis = svg.append('g')
    .attr('transform', `translate(${x(-1)},0)`)
    .call(d3.axisLeft(y)
      .tickValues(yTicks)
      .tickFormat((d, i) => yTickLabels[i])
      .tickSizeInner(-12)
      .tickSizeOuter(0)
      .tickPadding(11))

  yAxis.select('.domain').attr('stroke', c2).attr('stroke-width', 2.5)
  yAxis.selectAll('.tick line').attr('stroke', c2).attr('stroke-width', 1.2)
  yAxis.selectAll('text').attr('fill', c2).style('font-size', '19px')
    .style('font-family', '"Liberation Sans"')
    .call(stretchLabels, 1.85)

  const xAxis = svg.append('g')
    .attr('transform', `translate(0,${y(0)})`)
    .call(d3.axisBottom(x)
      .tickValues(xTicks)
      .tickFormat((d, i) => xTickLabels[i])
      .tickSizeInner(-12)
      .tickSizeOuter(0)
      .tickPadding(12))

  xAxis.select('.domain').attr('stroke', c2).attr('stroke-width', 2)
  xAxis.selectAll('.tick line').attr('stroke', c2)
  xAxis.selectAll('text').attr('fill', c2).style('font-size', '19px')
    .style('font-family', '"Liberation Sans"')
    .call(stretchLabels, 1.85)

  const points = []
  const addRays = (xs, ys) => xs.forEach((ray, i) => ray.forEach((v, j) => points.push([v, ys[i][j]])))
  spikeY.forEach(v => points.push([0, v]))
  addRays(outerX, outerY)
  addRays(lowerX, lowerY)
  addRays(innerX, innerY)
  addRays(midX, midY)
  bandX.forEach((v, i) => points.push([v, bandY[i]]))
  fillRows.forEach((row, i) => row.forEach(v => points.push([v, fillHeights[i]])))
  coreX.forEach((v, i) => points.push([v, coreY[i]]))
  baseHeights.forEach(h => baseX.forEach(v => points.push([v, h])))
  baseHeightsB.forEach(h => baseXb.forEach(v => points.push([v, h])))

  svg.append('g')
    .attr('fill', 'none')
    .attr('stroke', c1)
    .attr('stroke-width', 2.1)
    .style('filter', 'blur(0.6px)')
    .selectAll('ellipse')
    .data(points)
    .join('ellipse')
    .attr('cx', d => x(d[0]))
    .attr('cy', d => y(d[1]))
    .attr('rx', 10)
    .attr('ry', 6)

  svg.append('text')
    .attr('x', 725).attr('y', 41)
    .attr('text-anchor', 'middle')
    .attr('textLength', 400)
    .attr('lengthAdjust', 'spacingAndGlyphs')
    .attr('fill', '#222')
    .style('font-size', '22px')
    .style('font-weight', 'bold')
    .text(titleText)

  svg.append('text')
    .attr('x', 726).attr('y', 585)
    .attr('text-anchor', 'middle')
    .attr('textLength', 208)
    .attr('lengthAdjust', 'spacingAndGlyphs')
    .attr('fill', c2)
    .style('font-size', '24px')
    .text(xLabel)

  svg.append('text')
    .attr('transform', 'translate(93,288) rotate(-90)')
    .attr('text-anchor', 'middle')
    .attr('textLength', 68)
    .attr('lengthAdjust', 'spacingAndGlyphs')
    .attr('fill', c2)
    .style('font-size', '34px')
    .text(yLabel)
}

plot()
</script>
</body>
</html>
